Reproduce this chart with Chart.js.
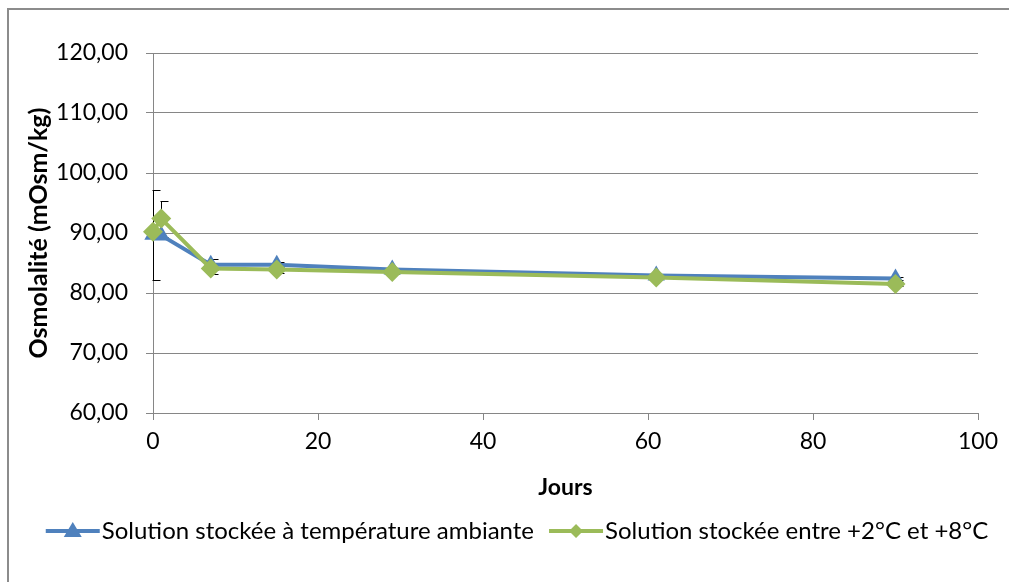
<!DOCTYPE html>
<html>
<head>
<meta charset="utf-8">
<script src="https://cdn.jsdelivr.net/npm/chart.js@4"></script>
<style>
  html, body { margin: 0; padding: 0; background: #fff; }
  #wrap { position: relative; width: 1009px; height: 582px; overflow: hidden; }
  #frame { position: absolute; left: 7px; top: 8px; width: 1100px; height: 700px;
    border-top: 2px solid #8c8c8c; border-left: 2px solid #8c8c8c; }
  #myChart { position: absolute; left: 0; top: 0; }
</style>
</head>
<body>
<div id="wrap">
  <div id="frame"></div>
  <canvas id="myChart" width="1009" height="582"></canvas>
</div>
<script>
let days = [0, 1, 7, 15, 29, 61, 90]
let ambiante = [89.7, 89.6, 84.7, 84.7, 83.9, 82.9, 82.4]
let froid = [90.2, 92.4, 84.1, 83.9, 83.5, 82.6, 81.5]
let errAmbiante = [7.5, 0, 0.9, 0.5, 0.3, 0.3, 0.3]
let errFroid = [0, 3.0, 0.9, 0.5, 0.3, 0.3, 0.3]
let labelAmbiante = 'Solution stockée à température ambiante'
let labelFroid = 'Solution stockée entre +2°C et +8°C'
let xTicks = [0, 20, 40, 60, 80, 100]
let yTicks = [60, 70, 80, 90, 100, 110, 120]

const blue = '#4f81bd'
const green = '#9bbb59'
const gridColor = '#868686'
const fontFamily = 'Lato, "Open Sans", sans-serif'

function toPoints(ys) {
  return days.map((d, i) => ({ x: d, y: ys[i] }))
}

// error bars, drawn under the markers
const errorBars = {
  id: 'errorBars',
  beforeDatasetsDraw(chart) {
    const ctx = chart.ctx
    const xs = chart.scales.x
    const ys = chart.scales.y
    const errs = [errAmbiante, errFroid]
    ctx.save()
    ctx.strokeStyle = '#000'
    ctx.lineWidth = 1
    chart.data.datasets.forEach((ds, k) => {
      ds.data.forEach((p, i) => {
        const e = errs[k][i]
        if (!e) return
        const px = Math.round(xs.getPixelForValue(p.x)) + 0.5
        const top = Math.round(ys.getPixelForValue(p.y + e)) + 0.5
        const bot = Math.round(ys.getPixelForValue(p.y - e)) + 0.5
        ctx.beginPath()
        ctx.moveTo(px, top); ctx.lineTo(px, bot)
        ctx.moveTo(px - 1, top); ctx.lineTo(px + 7, top)
        ctx.moveTo(px - 1, bot); ctx.lineTo(px + 7, bot)
        ctx.stroke()
      })
    })
    ctx.restore()
  }
}

// legend like the original: line + marker + text
const lineLegend = {
  id: 'lineLegend',
  afterDraw(chart) {
    const ctx = chart.ctx
    const items = chart.data.datasets.slice().sort((a, b) => a.legendIndex - b.legendIndex)
    const sample = 54
    const gap = 2
    const between = 15
    ctx.save()
    ctx.font = '24px ' + fontFamily
    const widths = items.map(ds => ctx.measureText(ds.label).width)
    let total = 0
    widths.forEach((w, i) => { total += sample + gap + w + (i ? between : 0) })
    let x = 517 - total / 2
    const y = 531
    items.forEach((ds, i) => {
      ctx.strokeStyle = ds.borderColor
      ctx.lineWidth = 4
      ctx.beginPath()
      ctx.moveTo(x, y); ctx.lineTo(x + sample, y)
      ctx.stroke()
      ctx.fillStyle = ds.backgroundColor
      const cx = x + sample / 2
      ctx.beginPath()
      if (ds.pointStyle === 'triangle') {
        ctx.moveTo(cx, y - 9); ctx.lineTo(cx + 9, y + 6); ctx.lineTo(cx - 9, y + 6)
      } else {
        ctx.moveTo(cx, y - 7); ctx.lineTo(cx + 7, y); ctx.lineTo(cx, y + 7); ctx.lineTo(cx - 7, y)
      }
      ctx.closePath()
      ctx.fill()
      ctx.fillStyle = '#000'
      ctx.textBaseline = 'middle'
      ctx.fillText(ds.label, x + sample + gap, y)
      x += sample + gap + widths[i] + between
    })
    ctx.restore()
  }
}

const ctx = document.getElementById('myChart').getContext('2d')
const myChart = new Chart(ctx, {
  type: 'line',
  data: {
    datasets: [
      {
        label: labelAmbiante,
        data: toPoints(ambiante),
        borderColor: blue,
        backgroundColor: blue,
        borderWidth: 4,
        pointStyle: 'triangle',
        pointRadius: 10,
        pointBorderWidth: 0,
        clip: false,
        order: 1,
        legendIndex: 0
      },
      {
        label: labelFroid,
        data: toPoints(froid),
        borderColor: green,
        backgroundColor: green,
        borderWidth: 4,
        pointStyle: 'rectRot',
        pointRadius: 10,
        pointBorderWidth: 0,
        clip: false,
        order: 0,
        legendIndex: 1
      }
    ]
  },
  options: {
    responsive: false,
    animation: false,
    layout: { padding: { left: 0, top: 53, right: 31, bottom: 74 } },
    scales: {
      x: {
        type: 'linear',
        min: 0,
        max: 100,
        afterBuildTicks: s => { s.ticks = xTicks.map(v => ({ value: v })) },
        afterFit: s => { s.height = 95 },
        ticks: { color: '#000', font: { family: fontFamily, size: 23 }, padding: 8, maxRotation: 0 },
        grid: { drawOnChartArea: false, tickLength: 7, color: gridColor },
        border: { color: gridColor, width: 1 },
        title: {
          display: true,
          text: 'Jours',
          color: '#000',
          font: { family: fontFamily, size: 23, weight: 'bold' },
          padding: { top: 0, bottom: 7 }
        }
      },
      y: {
        min: 60,
        max: 120,
        afterBuildTicks: s => { s.ticks = yTicks.map(v => ({ value: v })) },
        afterFit: s => { s.width = 153 },
        ticks: {
          color: '#000',
          font: { family: fontFamily, size: 23 },
          padding: 18,
          callback: v => v.toFixed(2).replace('.', ',')
        },
        grid: { color: gridColor, tickLength: 7 },
        border: { color: gridColor, width: 1 },
        title: {
          display: true,
          text: 'Osmolalité (mOsm/kg)',
          color: '#000',
          font: { family: fontFamily, size: 25, weight: 'bold' },
          padding: { top: 24, bottom: 0 }
        }
      }
    },
    plugins: {
      legend: { display: false },
      tooltip: { enabled: false }
    }
  },
  plugins: [errorBars, lineLegend]
})
</script>
</body>
</html>
